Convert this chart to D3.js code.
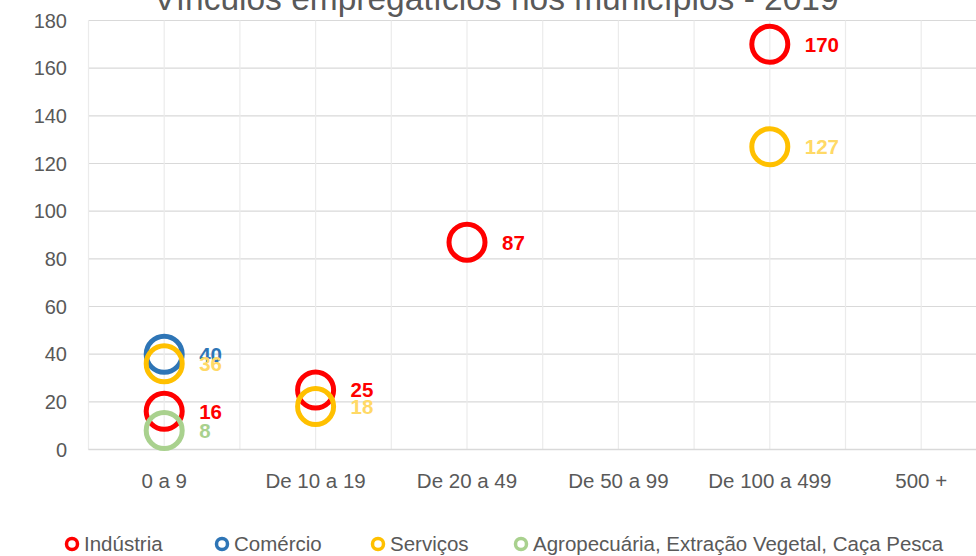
<!DOCTYPE html>
<html><head><meta charset="utf-8">
<script src="https://cdn.jsdelivr.net/npm/d3@7"></script>
<style>body{margin:0;background:#fff;}svg{display:block;font-family:"Liberation Sans",Arial,sans-serif;}</style>
</head><body>
<svg id="c" width="976" height="556"></svg>
<script>
const title = "Vínculos empregatícios nos municípios - 2019";
const categories = ["0 a 9", "De 10 a 19", "De 20 a 49", "De 50 a 99", "De 100 a 499", "500 +"];
const yTicks = [0, 20, 40, 60, 80, 100, 120, 140, 160, 180];
const seriesNames = ["Indústria", "Comércio", "Serviços", "Agropecuária, Extração Vegetal, Caça Pesca"];
const industria = [16, 25, 87, null, 170, null];
const comercio = [40, null, null, null, null, null];
const servicos = [36, 18, null, null, 127, null];
const agro = [8, null, null, null, null, null];
const markerColors = ["#FF0000", "#2E75B6", "#FFC000", "#A9D18E"];
const labelColors = ["#FF0000", "#2E75B6", "#FFD966", "#A9D18E"];
const seriesValues = [industria, comercio, servicos, agro];

const svg = d3.select("#c");
const left = 88.5, bw = 151.4;
const x = d3.scaleBand().domain(categories).range([left, left + bw * categories.length]);
const y = d3.scaleLinear().domain([0, 180]).range([449.5, 20.5]);
const right = left + bw * categories.length;

// gridlines horizontal
svg.append("g").selectAll("line").data(yTicks).join("line")
  .attr("x1", left).attr("x2", right)
  .attr("y1", d => y(d)).attr("y2", d => y(d))
  .attr("stroke", "#D9D9D9").attr("stroke-width", 1.2);
// vertical gridlines
const vx = [];
categories.forEach(c => { vx.push(x(c)); vx.push(x(c) + bw / 2); });
svg.append("g").selectAll("line").data(vx).join("line")
  .attr("x1", d => d).attr("x2", d => d)
  .attr("y1", y(180)).attr("y2", y(0))
  .attr("stroke", "#EBEBEB").attr("stroke-width", 1.2);
// x axis line
svg.append("line").attr("x1", left).attr("x2", right).attr("y1", y(0)).attr("y2", y(0))
  .attr("stroke", "#D9D9D9").attr("stroke-width", 1.5);

// y labels
svg.append("g").selectAll("text").data(yTicks).join("text")
  .attr("x", 67).attr("y", d => y(d)).attr("dy", "0.35em")
  .attr("text-anchor", "end").attr("font-size", 20).attr("fill", "#595959")
  .text(d => d);
// x labels
svg.append("g").selectAll("text").data(categories).join("text")
  .attr("x", d => x(d) + bw / 2).attr("y", 481).attr("dy", "0.35em")
  .attr("text-anchor", "middle").attr("font-size", 20.5).attr("fill", "#595959")
  .text(d => d);

// title
svg.append("text").attr("x", 496).attr("y", 10).attr("text-anchor", "middle")
  .attr("font-size", 33.5).attr("fill", "#595959").text(title);

// points
seriesValues.forEach((vals, i) => {
  const pts = categories.map((c, j) => ({ c, v: vals[j] })).filter(d => d.v != null);
  const g = svg.append("g");
  g.selectAll("circle").data(pts).join("circle")
    .attr("cx", d => x(d.c) + bw / 2).attr("cy", d => y(d.v)).attr("r", 18)
    .attr("fill", "none").attr("stroke", markerColors[i]).attr("stroke-width", 5);
  g.selectAll("text").data(pts).join("text")
    .attr("x", d => x(d.c) + bw / 2 + 35).attr("y", d => y(d.v)).attr("dy", "0.36em")
    .attr("font-size", 20.5).attr("font-weight", "bold").attr("fill", labelColors[i])
    .text(d => d.v);
});

// legend
const legX = [72, 222, 378, 521];
const lg = svg.append("g");
seriesNames.forEach((n, i) => {
  lg.append("circle").attr("cx", legX[i]).attr("cy", 544).attr("r", 5.5)
    .attr("fill", "none").attr("stroke", markerColors[i]).attr("stroke-width", 3.5);
  lg.append("text").attr("x", legX[i] + 12).attr("y", 544).attr("dy", "0.35em")
    .attr("font-size", 20.5).attr("fill", "#595959").text(n);
});
</script>
</body></html>
